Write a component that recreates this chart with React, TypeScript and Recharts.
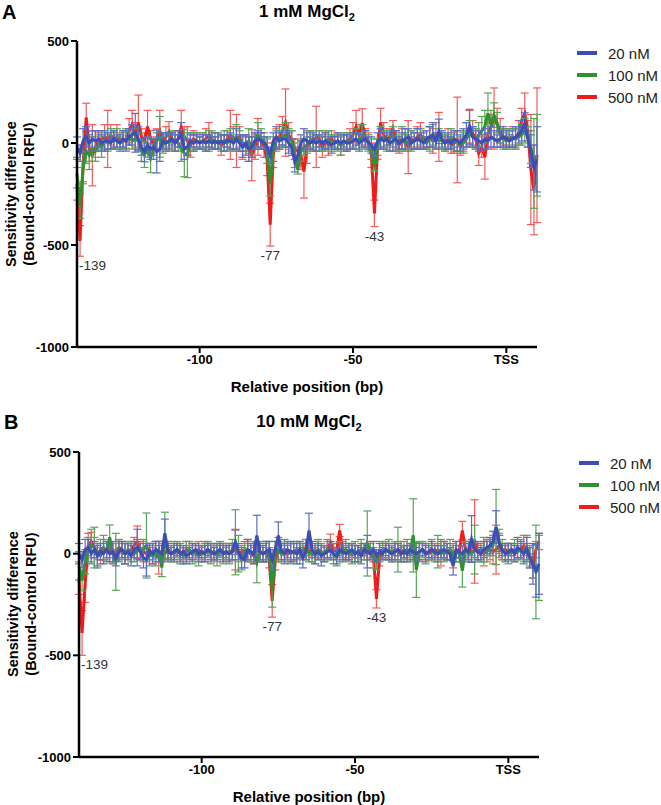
import { LineChart, Line, XAxis, YAxis, ErrorBar, ReferenceDot, Legend } from 'recharts';

// Relative positions (bp), TSS = 0
const FIRST_POS = -140;
const LAST_POS = 10;
const xTicks = [-100, -50, 0];
const yTicks = [-1000, -500, 0, 500];
const markedPositions = [-139, -77, -43];

// ---- 1 mM MgCl2 ----
const a500 = [
  -200, -480, -100, 125, -30, -60, -20, 10, 20, 30,
  20, 40, 15, 30, 10, 20, 5, 60, 90, 40,
  100, 30, 10, 80, 20, -10, 20, 60, 10, 30,
  55, 10, 0, 20, 80, 30, 10, -10, 20, 10,
  0, 10, 20, 40, 10, 0, 10, -10, 0, 20,
  40, 20, 10, 30, -20, -10, -30, -60, -20, 30,
  10, -20, -80, -400, -60, 20, 30, 60, 100, 40,
  20, -30, -40, -60, -140, -20, 10, 0, 30, 20,
  -20, 10, -10, 20, 0, 10, -10, 0, 10, 20,
  40, 80, 40, 98, 30, 10, -60, -345, -30, 100,
  40, 20, 30, 70, 10, -10, 20, 0, -20, 20,
  10, 30, 40, 20, 0, 30, 10, 40, 30, 10,
  0, 20, -10, 0, 15, -20, 10, 40, 80, 50,
  20, -50, -20, -67, 40, 80, 120, 90, 60, 30,
  30, 20, 30, 20, 50, 110, 145, 60, -130, -230,
  -60,
];
const a500Err = [
  80, 75, 90, 70, 60, 150, 50, 40, 40, 60,
  140, 50, 40, 60, 40, 40, 30, 60, 70, 60,
  135, 40, 40, 80, 40, 40, 50, 100, 40, 50,
  50, 40, 40, 40, 80, 50, 70, 60, 40, 40,
  30, 40, 50, 60, 40, 30, 40, 50, 40, 40,
  120, 60, 130, 50, 60, 50, 60, 125, 60, 90,
  40, 50, 80, 105, 60, 50, 60, 70, 165, 60,
  40, 50, 60, 70, 130, 80, 50, 40, 150, 40,
  50, 40, 50, 40, 30, 40, 50, 40, 40, 50,
  60, 80, 50, 70, 40, 40, 60, 65, 50, 70,
  60, 50, 40, 40, 40, 40, 50, 40, 130, 40,
  40, 50, 60, 40, 30, 50, 60, 60, 120, 40,
  40, 50, 40, 50, 210, 40, 50, 60, 80, 60,
  50, 60, 50, 110, 60, 60, 150, 80, 60, 40,
  40, 40, 50, 50, 60, 60, 100, 50, 270, 220,
  330,
];
const a100 = [
  -150, -310, -120, -40, -60, -30, -40, 0, -20, 10,
  0, 20, 10, 20, 0, 10, 20, 30, 10, 20,
  10, -40, -60, -20, -75, -30, 10, 30, -10, 10,
  0, 20, 10, 0, -30, -50, -60, 10, 0, 10,
  0, 10, 0, 10, 20, 0, 10, 0, 10, 0,
  20, 0, 30, 10, 0, -10, 10, -20, 10, 40,
  20, 10, -40, -200, -30, 10, 20, 30, 40, 20,
  10, -60, -132, -40, -20, -10, 10, 20, 0, 10,
  0, 10, 20, 0, 10, 0, -10, 10, 0, 10,
  10, 20, 10, 30, 20, 0, -30, -116, -20, 30,
  20, 10, 20, 40, 10, 0, 20, 10, 0, 10,
  10, 20, 30, 10, 0, 20, 40, 10, 20, 10,
  0, 10, 20, 0, 10, -10, 0, 20, 50, 30,
  20, 40, 60, 80, 145, 90, 137, 100, 40, 20,
  10, 20, 30, 20, 30, 40, 60, 30, -20, -100,
  -60,
];
const a100Err = [
  70, 60, 80, 60, 70, 60, 50, 40, 50, 40,
  40, 50, 40, 50, 30, 40, 50, 40, 40, 50,
  40, 50, 60, 50, 70, 50, 40, 100, 40, 40,
  40, 40, 50, 40, 60, 115, 110, 40, 40, 40,
  30, 40, 40, 50, 40, 30, 40, 40, 50, 40,
  50, 40, 60, 50, 40, 50, 60, 50, 40, 60,
  50, 40, 60, 60, 60, 50, 40, 50, 60, 50,
  50, 60, 20, 50, 40, 40, 50, 40, 40, 50,
  40, 50, 40, 40, 30, 40, 50, 40, 40, 40,
  40, 50, 40, 60, 40, 40, 50, 20, 40, 50,
  40, 50, 40, 40, 50, 40, 60, 40, 40, 50,
  40, 50, 40, 40, 30, 60, 50, 40, 50, 40,
  40, 30, 50, 40, 50, 40, 50, 40, 60, 50,
  50, 60, 70, 80, 100, 70, 60, 50, 40, 50,
  40, 50, 40, 50, 40, 50, 60, 50, 80, 220,
  200,
];
const a20 = [
  -20, -50, 10, 30, 0, 20, 10, 20, 0, 10,
  10, 0, 20, 10, 0, 20, 10, 30, 40, 50,
  20, -20, -42, -10, -30, -20, -42, -30, 10, 0,
  10, 20, 0, 20, 40, -30, -20, 10, 0, 10,
  0, 10, 0, 10, 0, 10, 0, 10, 0, 10,
  10, 0, 20, 0, -20, 0, -30, -20, 10, 20,
  10, 0, -20, -60, 10, 30, 10, 20, 20, 0,
  -20, -92, -60, 0, 20, 10, 0, 10, 0, 10,
  0, 10, 0, -10, 0, 10, 0, 10, 0, 0,
  10, 20, 0, 10, 20, 0, -10, -35, 10, 20,
  10, 20, 0, 10, 20, 0, 10, 20, 30, 0,
  10, 20, 10, 0, 20, 30, 40, 10, 57, 20,
  0, 10, 0, 20, 10, 0, 20, 40, 80, 30,
  20, 10, 0, 20, 10, 30, 20, 10, 20, 30,
  20, 10, 20, 30, 40, 60, 98, 20, -40, -120,
  -80,
];
const a20Err = [
  50, 40, 60, 50, 40, 40, 50, 40, 40, 50,
  40, 30, 40, 30, 40, 40, 50, 40, 50, 95,
  60, 40, 50, 40, 50, 40, 105, 60, 40, 40,
  40, 30, 40, 40, 60, 50, 40, 30, 40, 30,
  30, 30, 40, 30, 30, 40, 30, 30, 40, 30,
  40, 30, 50, 40, 50, 40, 60, 50, 40, 40,
  40, 30, 50, 40, 40, 50, 40, 30, 40, 50,
  40, 50, 40, 40, 50, 40, 30, 40, 40, 30,
  30, 40, 30, 40, 30, 40, 30, 30, 40, 30,
  40, 30, 40, 30, 40, 30, 40, 30, 40, 50,
  40, 30, 40, 50, 40, 30, 40, 50, 40, 30,
  40, 50, 40, 30, 40, 50, 60, 40, 60, 40,
  30, 40, 30, 40, 50, 40, 50, 60, 85, 50,
  40, 50, 40, 50, 40, 50, 40, 30, 40, 50,
  40, 30, 40, 50, 40, 50, 50, 40, 80, 110,
  160,
];

// ---- 10 mM MgCl2 ----
const b500 = [
  -120, -390, -150, 40, 60, 30, 10, -10, 20, 10,
  20, 0, 10, 30, 20, 0, 10, 20, 40, 56,
  20, 10, 0, 20, -10, 10, -20, 10, 0, 20,
  10, 0, 20, 10, 0, 20, 10, 0, 10, 20,
  0, 10, 20, 0, 10, 0, 20, 10, 0, 10,
  10, 20, 0, 10, 20, 10, 0, -10, 20, 10,
  0, 10, -20, -232, -30, 20, 10, 20, 0, 10,
  10, 0, 20, 10, 30, 20, 0, 10, 20, 10,
  0, 20, 56, 20, 10, 114, 20, 10, 0, 10,
  10, 0, 20, 10, 0, 20, -10, -222, -20, 10,
  20, 10, 0, 20, 10, 0, 20, 10, 0, 10,
  0, 10, 20, 10, 0, 10, 20, 10, 0, 20,
  10, 0, -10, 20, 10, 114, 20, 0, 30, 60,
  10, 20, 0, 30, 20, 10, 20, 40, 10, 20,
  10, 20, 0, 10, 20, 40, 10, -20, -60, 20,
  60,
];
const b500Err = [
  80, 110, 90, 60, 45, 50, 40, 40, 50, 40,
  40, 50, 40, 30, 40, 50, 40, 30, 40, 80,
  40, 50, 40, 30, 40, 50, 80, 40, 30, 40,
  30, 40, 30, 40, 30, 40, 30, 40, 30, 40,
  30, 40, 30, 40, 30, 40, 30, 40, 30, 40,
  40, 100, 40, 30, 40, 50, 40, 40, 30, 40,
  30, 40, 50, 80, 50, 60, 40, 30, 40, 40,
  40, 30, 40, 30, 40, 30, 40, 30, 40, 30,
  30, 40, 40, 30, 40, 30, 40, 30, 40, 30,
  30, 40, 30, 40, 30, 40, 30, 45, 40, 30,
  40, 30, 40, 30, 40, 30, 40, 30, 40, 30,
  30, 40, 30, 40, 30, 40, 30, 40, 60, 40,
  40, 30, 60, 40, 30, 45, 40, 30, 40, 205,
  40, 30, 60, 40, 50, 60, 120, 60, 40, 30,
  40, 30, 40, 30, 40, 50, 40, 50, 60, 40,
  40,
];
const b100 = [
  -60, -133, -40, 20, 40, 30, -10, 20, 30, 10,
  81, 0, -40, 20, 10, 0, 20, 10, 0, 20,
  10, 20, 40, -10, 10, -10, 20, -68, 89, 10,
  0, 10, 20, 0, -10, 10, 20, 0, 10, -10,
  0, 10, 20, 0, 10, -10, 20, 0, 10, 0,
  20, 56, 0, -30, 10, 20, 0, 10, -43, 10,
  0, 10, 20, -183, 20, 10, 0, 20, 10, 0,
  10, 20, 0, 10, 20, 0, 10, -10, 20, 10,
  0, 20, 10, 0, -20, 10, 0, 20, 10, 0,
  10, 0, 20, 10, 50, 10, -20, -40, 10, 20,
  10, 20, 0, 10, 20, 10, 0, 20, 10, 90,
  -80, 10, 20, 0, 10, 20, 0, 10, 20, 0,
  10, 20, 0, 10, 0, -84, 20, 10, 0, 20,
  10, 0, 20, 10, 30, 40, 131, 60, 20, 10,
  0, 10, 20, 10, 20, 0, 30, -10, -40, -90,
  -70,
];
const b100Err = [
  70, 50, 60, 60, 80, 100, 60, 50, 60, 50,
  60, 50, 140, 50, 40, 50, 40, 50, 40, 50,
  40, 50, 160, 50, 40, 50, 40, 45, 115, 50,
  40, 50, 40, 50, 40, 50, 40, 50, 40, 50,
  40, 50, 40, 50, 40, 50, 40, 50, 40, 50,
  50, 160, 90, 50, 40, 50, 40, 50, 100, 50,
  40, 50, 40, 80, 40, 50, 40, 50, 40, 50,
  50, 40, 50, 40, 50, 40, 50, 40, 50, 40,
  40, 50, 40, 50, 40, 50, 40, 50, 40, 50,
  50, 40, 50, 40, 160, 40, 50, 40, 50, 40,
  40, 50, 40, 50, 110, 50, 40, 50, 40, 180,
  135, 50, 40, 50, 40, 50, 40, 80, 50, 40,
  40, 50, 40, 50, 40, 80, 40, 50, 40, 120,
  50, 40, 60, 50, 40, 50, 185, 60, 50, 40,
  50, 40, 50, 40, 50, 40, 60, 50, 80, 230,
  160,
];
const b20 = [
  0, -30, 20, 30, 0, 20, -10, 10, 0, 20,
  0, 10, -20, 10, 20, 0, 10, -10, 20, 30,
  10, -20, -30, 10, 0, 20, 10, 0, 100, 10,
  0, 10, 20, 0, 10, -10, 0, 10, 20, 0,
  10, 0, 20, 10, 0, 10, 20, 0, 10, 0,
  10, 56, 10, -20, -30, 20, 10, 0, 89, 10,
  0, 10, 20, -30, 20, 89, 10, 0, 20, 10,
  10, 0, 20, -20, 10, 114, 20, 0, 10, -10,
  0, 10, 20, 0, -10, 20, 10, 0, 10, 20,
  0, 10, -10, 20, 10, 0, 20, -10, 10, 0,
  20, 10, 0, 10, 20, 0, 10, 0, 20, 10,
  0, 10, 20, 0, 10, 20, 10, 0, 10, 20,
  10, 0, -60, 20, 10, 0, 20, 10, 72, 20,
  10, 0, 20, 30, 40, 60, 131, 50, 20, 0,
  10, 20, 0, 30, 20, 0, 20, -20, -50, -84,
  -50,
];
const b20Err = [
  50, 40, 50, 40, 50, 40, 50, 40, 50, 40,
  40, 50, 40, 50, 40, 50, 40, 50, 40, 90,
  40, 50, 80, 40, 50, 40, 50, 40, 70, 40,
  30, 40, 30, 40, 30, 40, 30, 40, 30, 40,
  30, 40, 30, 40, 30, 40, 30, 40, 30, 40,
  40, 60, 40, 50, 40, 50, 40, 50, 100, 40,
  40, 50, 40, 50, 40, 67, 40, 50, 40, 50,
  40, 50, 40, 50, 40, 85, 40, 50, 40, 50,
  40, 30, 40, 30, 40, 30, 40, 30, 40, 30,
  40, 30, 40, 30, 80, 30, 40, 30, 40, 30,
  30, 40, 30, 40, 30, 40, 30, 40, 30, 40,
  30, 40, 30, 40, 30, 40, 30, 40, 30, 40,
  40, 30, 45, 40, 30, 40, 30, 40, 115, 40,
  40, 30, 40, 30, 40, 50, 80, 40, 30, 40,
  40, 30, 40, 50, 40, 50, 60, 50, 100, 130,
  150,
];

// drawn bottom to top: red, green, blue
const SERIES = [
  { key: 'c500', name: '500 nM', color: '#f01c1c', errColor: '#f55a5a' },
  { key: 'c100', name: '100 nM', color: '#2f922f', errColor: '#56a656' },
  { key: 'c20', name: '20 nM', color: '#3c4db5', errColor: '#5d6cc4' },
];
const LEGEND_ORDER = ['c20', 'c100', 'c500'];

const FONT = '"Liberation Sans", Arial, Helvetica, sans-serif';
const LEGEND_W = 84;

function buildRows(
  r: number[], re: number[], g: number[], ge: number[], b: number[], be: number[]
) {
  const rows = [];
  for (let pos = FIRST_POS; pos <= LAST_POS; pos++) {
    const i = pos - FIRST_POS;
    rows.push({ pos, c500: r[i], c500e: re[i], c100: g[i], c100e: ge[i], c20: b[i], c20e: be[i] });
  }
  return rows;
}

const rowsA = buildRows(a500, a500Err, a100, a100Err, a20, a20Err);
const rowsB = buildRows(b500, b500Err, b100, b100Err, b20, b20Err);

function renderLegend() {
  return (
    <div style={{ fontFamily: FONT }}>
      {LEGEND_ORDER.map((k) => {
        const s = SERIES.find((x) => x.key === k)!;
        return (
          <div key={k} style={{ display: 'flex', alignItems: 'center', height: 22 }}>
            <span style={{ display: 'inline-block', width: 20, height: 3.5, background: s.color, marginRight: 11 }} />
            <span style={{ fontSize: 15, color: '#222' }}>{s.name}</span>
          </div>
        );
      })}
    </div>
  );
}

interface PanelProps {
  top: number;
  left: number;
  letter: string;
  conc: string;
  rows: ReturnType<typeof buildRows>;
  marginTop: number;
}

function Panel({ top, left, letter, conc, rows, marginTop }: PanelProps) {
  const marks = markedPositions.map((p) => {
    const row = rows.find((d) => d.pos === p)!;
    return { pos: p, y: row.c500 - row.c500e };
  });
  const tickStyle = { fill: '#000', fontSize: 13, fontWeight: 700, fontFamily: FONT };

  return (
    <div style={{ position: 'absolute', top, left, width: 661, height: 400 }}>
      <div style={{ position: 'absolute', left: 2, top: 0, fontFamily: FONT, fontWeight: 700, fontSize: 20, lineHeight: '24px' }}>
        {letter}
      </div>
      <div
        style={{
          position: 'absolute', left: 77, top: 2, width: 460, textAlign: 'center',
          fontFamily: FONT, fontWeight: 700, fontSize: 17, lineHeight: '20px',
        }}
      >
        {conc} mM MgCl<sub style={{ fontSize: 11, verticalAlign: '-4px', lineHeight: 0 }}>2</sub>
      </div>
      <div
        style={{
          position: 'absolute', left: 20 - 153, top: 194 - 18, width: 306, height: 36,
          transform: 'rotate(-90deg)', textAlign: 'center',
          fontFamily: FONT, fontWeight: 700, fontSize: 14.5, lineHeight: '18px',
        }}
      >
        <div>Sensitivity difference</div>
        <div>(Bound-control RFU)</div>
      </div>
      <div
        style={{
          position: 'absolute', left: 77, top: 377, width: 460, textAlign: 'center',
          fontFamily: FONT, fontWeight: 700, fontSize: 15, lineHeight: '20px',
        }}
      >
        Relative position (bp)
      </div>
      {/* the vertical legend takes its own width from the right margin */}
      <LineChart width={661} height={400} data={rows} margin={{ top: marginTop, right: 124 - LEGEND_W, bottom: 0, left: 27 }}>
        <XAxis
          type="number"
          dataKey="pos"
          domain={[FIRST_POS, LAST_POS]}
          ticks={xTicks}
          tickFormatter={(v: number) => (v === 0 ? 'TSS' : String(v))}
          height={53}
          tickSize={6}
          axisLine={{ stroke: '#000', strokeWidth: 2.5 }}
          tickLine={{ stroke: '#000', strokeWidth: 2 }}
          tick={tickStyle}
        />
        <YAxis
          type="number"
          domain={[-1000, 500]}
          ticks={yTicks}
          width={50}
          tickSize={6}
          axisLine={{ stroke: '#000', strokeWidth: 2.5 }}
          tickLine={{ stroke: '#000', strokeWidth: 2 }}
          tick={tickStyle}
        />
        <Legend
          layout="vertical"
          verticalAlign="top"
          align="right"
          content={renderLegend}
          wrapperStyle={{ top: 42, left: 577, width: LEGEND_W }}
        />
        {SERIES.map((s) => (
          <Line
            key={s.key}
            type="linear"
            dataKey={s.key}
            name={s.name}
            stroke={s.color}
            strokeWidth={3}
            dot={false}
            activeDot={false}
            isAnimationActive={false}
          >
            <ErrorBar
              dataKey={s.key + 'e'}
              direction="y"
              width={4}
              stroke={s.errColor}
              strokeWidth={1.2}
              isAnimationActive={false}
            />
          </Line>
        ))}
        {marks.map((m) => (
          <ReferenceDot
            key={m.pos}
            x={m.pos}
            y={m.y}
            r={0}
            isFront
            shape={(p: any) => (
              <text
                x={m.pos === -139 ? p.cx - 1 : p.cx}
                y={p.cy + 14}
                textAnchor={m.pos === -139 ? 'start' : 'middle'}
                fontFamily={FONT}
                fontSize={13.5}
                fill="#333"
              >
                {m.pos}
              </text>
            )}
          />
        ))}
      </LineChart>
    </div>
  );
}

export default function App() {
  return (
    <div style={{ position: 'absolute', left: 0, top: 0, width: 661, height: 805, background: '#fff', overflow: 'hidden' }}>
      <Panel top={0} left={0} letter="A" conc="1" rows={rowsA} marginTop={41} />
      <Panel top={410} left={2} letter="B" conc="10" rows={rowsB} marginTop={42} />
    </div>
  );
}
